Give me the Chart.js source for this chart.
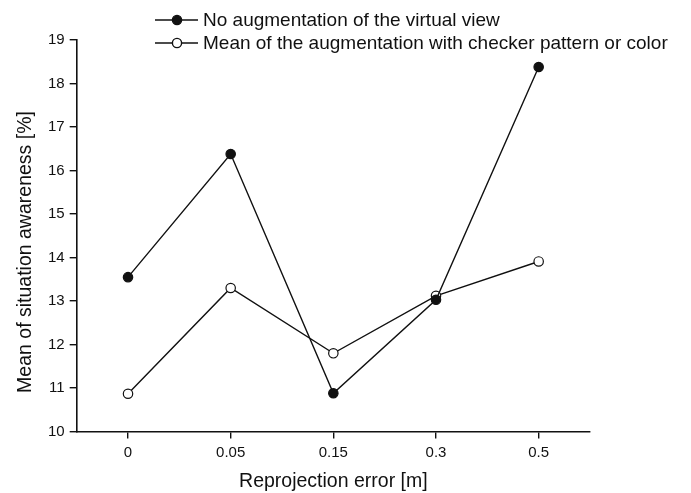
<!DOCTYPE html>
<html>
<head>
<meta charset="utf-8">
<script src="https://cdn.jsdelivr.net/npm/chart.js@4.4.0/dist/chart.umd.min.js"></script>
<style>
  body { margin: 0; background: #fff; }
  #wrap { width: 691px; height: 493px; }
</style>
</head>
<body>
<div id="wrap"><canvas id="chart" width="691" height="493"></canvas></div>
<script>
// reprojection error categories
const errors = ['0', '0.05', '0.15', '0.3', '0.5'];
const noAugmentation = [13.55, 16.38, 10.88, 13.03, 18.38];
const meanAugmentation = [10.87, 13.3, 11.8, 13.12, 13.91];
const yTicks = [10, 11, 12, 13, 14, 15, 16, 17, 18, 19];
const yTitle = 'Mean of situation awareness [%]';

const fontName = '"Liberation Sans", Arial, sans-serif';
const ink = '#111';

// legend with line + marker, stacked and left aligned like the paper figure,
// plus the y title which sits a bit below the axis middle in the original
const extras = {
  id: 'extras',
  afterDraw(chart) {
    const ctx = chart.ctx;
    ctx.save();
    chart.data.datasets.forEach(function (ds, i) {
      const y = 20 + i * 23;
      ctx.strokeStyle = ink;
      ctx.lineWidth = 1.4;
      ctx.beginPath();
      ctx.moveTo(155, y);
      ctx.lineTo(198, y);
      ctx.stroke();
      ctx.beginPath();
      ctx.arc(177, y, 4.6, 0, Math.PI * 2);
      ctx.fillStyle = ds.pointBackgroundColor;
      ctx.fill();
      ctx.stroke();
      ctx.fillStyle = ink;
      ctx.font = '19px ' + fontName;
      ctx.textBaseline = 'middle';
      ctx.fillText(ds.label, 203, y + 1);
    });
    ctx.translate(26, 252);
    ctx.rotate(-Math.PI / 2);
    ctx.font = '19.5px ' + fontName;
    ctx.textAlign = 'center';
    ctx.textBaseline = 'middle';
    ctx.fillStyle = ink;
    ctx.fillText(yTitle, 0, 0);
    ctx.restore();
  }
};

new Chart(document.getElementById('chart'), {
  type: 'line',
  data: {
    labels: errors,
    datasets: [{
      label: 'No augmentation of the virtual view',
      data: noAugmentation,
      borderColor: ink,
      borderWidth: 1.4,
      pointRadius: 4.7,
      pointBackgroundColor: ink,
      pointBorderColor: ink,
      pointBorderWidth: 1.2,
      fill: false
    }, {
      label: 'Mean of the augmentation with checker pattern or color',
      data: meanAugmentation,
      borderColor: ink,
      borderWidth: 1.4,
      pointRadius: 4.7,
      pointBackgroundColor: '#fff',
      pointBorderColor: ink,
      pointBorderWidth: 1.2,
      fill: false
    }]
  },
  options: {
    responsive: false,
    animation: false,
    layout: { padding: { top: 40, right: 101, left: 43, bottom: 0 } },
    plugins: {
      legend: { display: false },
      tooltip: { enabled: false }
    },
    scales: {
      x: {
        offset: true,
        border: { display: true, color: ink, width: 1.6 },
        grid: { display: true, drawOnChartArea: false, drawTicks: true, tickLength: 7, color: ink, lineWidth: 1.4, offset: false },
        ticks: { color: ink, font: { family: fontName, size: 15 }, padding: 5 },
        title: { display: true, text: 'Reprojection error [m]', color: ink, font: { family: fontName, size: 19.5 }, padding: { top: 3, bottom: 0 } }
      },
      y: {
        min: 10,
        max: 19,
        afterBuildTicks(scale) { scale.ticks = yTicks.map(v => ({ value: v })); },
        border: { display: true, color: ink, width: 1.6 },
        grid: { display: true, drawOnChartArea: false, drawTicks: true, tickLength: 7, color: ink, lineWidth: 1.4 },
        ticks: { color: ink, font: { family: fontName, size: 15 }, padding: 5 },
        title: { display: false }
      }
    }
  },
  plugins: [extras]
});
</script>
</body>
</html>
